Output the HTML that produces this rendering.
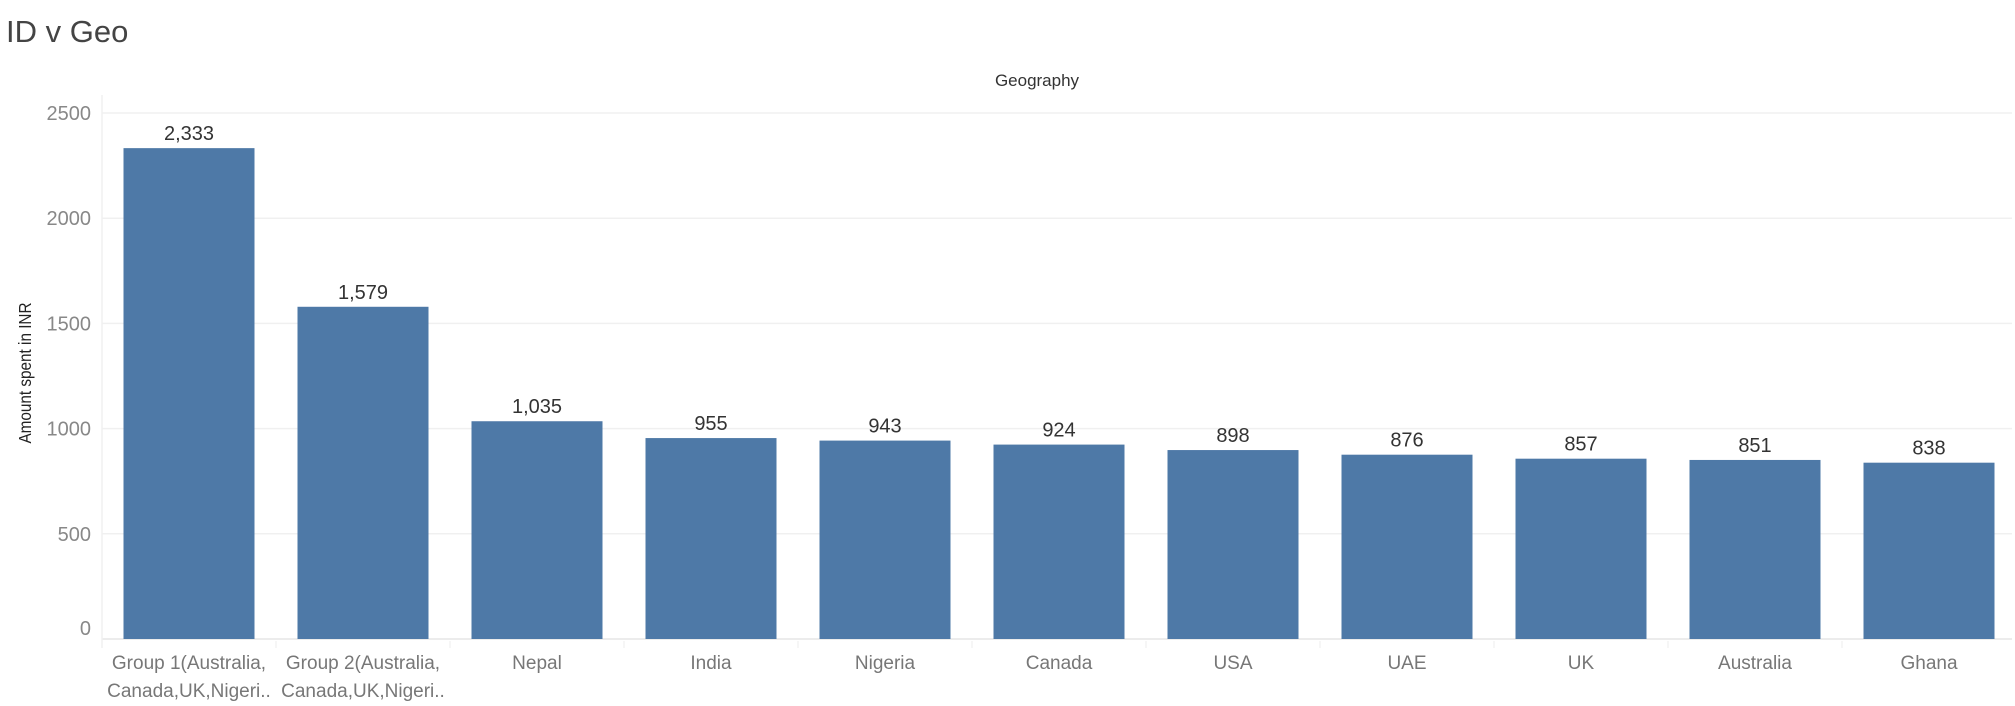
<!DOCTYPE html>
<html><head><meta charset="utf-8">
<style>
html,body{margin:0;padding:0;background:#fff;}
body{width:2015px;height:701px;overflow:hidden;font-family:"Liberation Sans",sans-serif;}
svg text{font-family:"Liberation Sans",sans-serif;}
</style></head>
<body>
<svg id="chart" width="2015" height="701" xmlns="http://www.w3.org/2000/svg">
<text x="6" y="42" font-size="31" fill="#444">ID v Geo</text>
<text x="1037" y="86" font-size="17" fill="#333" text-anchor="middle">Geography</text>
<text transform="translate(31,373) rotate(-90) scale(0.85,1)" font-size="18" fill="#222" text-anchor="middle">Amount spent in INR</text>
<g id="grid"></g><g id="bars"></g><g id="labels"></g>
</svg>
<script>
const categories=["Group 1(Australia,|Canada,UK,Nigeri..","Group 2(Australia,|Canada,UK,Nigeri..","Nepal","India","Nigeria","Canada","USA","UAE","UK","Australia","Ghana"];
const values=[2333,1579,1035,955,943,924,898,876,857,851,838];
const valueLabels=["2,333","1,579","1,035","955","943","924","898","876","857","851","838"];
const yTicks=[0,500,1000,1500,2000,2500];
const NS="http://www.w3.org/2000/svg";
const x0=102,band=174,barW=131,yTop=113,yBot=639,yMax=2500;
function y(v){return yBot-(v/yMax)*(yBot-yTop);}
function xc(i){return x0+band*i+band/2;}
function mk(tag,attrs,parent){const e=document.createElementNS(NS,tag);for(const k in attrs)e.setAttribute(k,attrs[k]);parent.appendChild(e);return e;}
const grid=document.getElementById('grid'),bars=document.getElementById('bars'),labels=document.getElementById('labels');
yTicks.forEach(t=>{
  const l=mk('line',{x1:x0,x2:2012,y1:y(t),y2:y(t),stroke:t===0?'#e6e6e6':'#f0f0f0','stroke-width':1.5},grid);
  
  
  const tx=mk('text',{x:91,y:y(t)+(t===0?-4:7),'font-size':20,fill:'#888','text-anchor':'end'},grid);
  tx.textContent=t;
  
  
});
const ax=mk('line',{x1:x0,x2:x0,y1:95,y2:648,stroke:'#f0f0f0','stroke-width':1.5},grid);


categories.forEach((c,i)=>{
  const r=mk('rect',{x:xc(i)-barW/2,y:y(values[i]),width:barW,height:yBot-y(values[i]),fill:'#4e79a7'},bars);
  
  
  const v=mk('text',{x:xc(i),y:y(values[i])-8,'font-size':20,fill:'#333','text-anchor':'middle'},labels);
  v.textContent=valueLabels[i];
  
  
  const tk=mk('line',{x1:x0+band*(i+1),x2:x0+band*(i+1),y1:641,y2:648,stroke:'#eee'},grid);
  
  
  c.split('|').forEach((ln,j)=>{
    const t=mk('text',{x:xc(i),y:669+j*28,'font-size':19,fill:'#777','text-anchor':'middle'},labels);
    t.textContent=ln;
    
    
  });
});
</script>
</body></html>
